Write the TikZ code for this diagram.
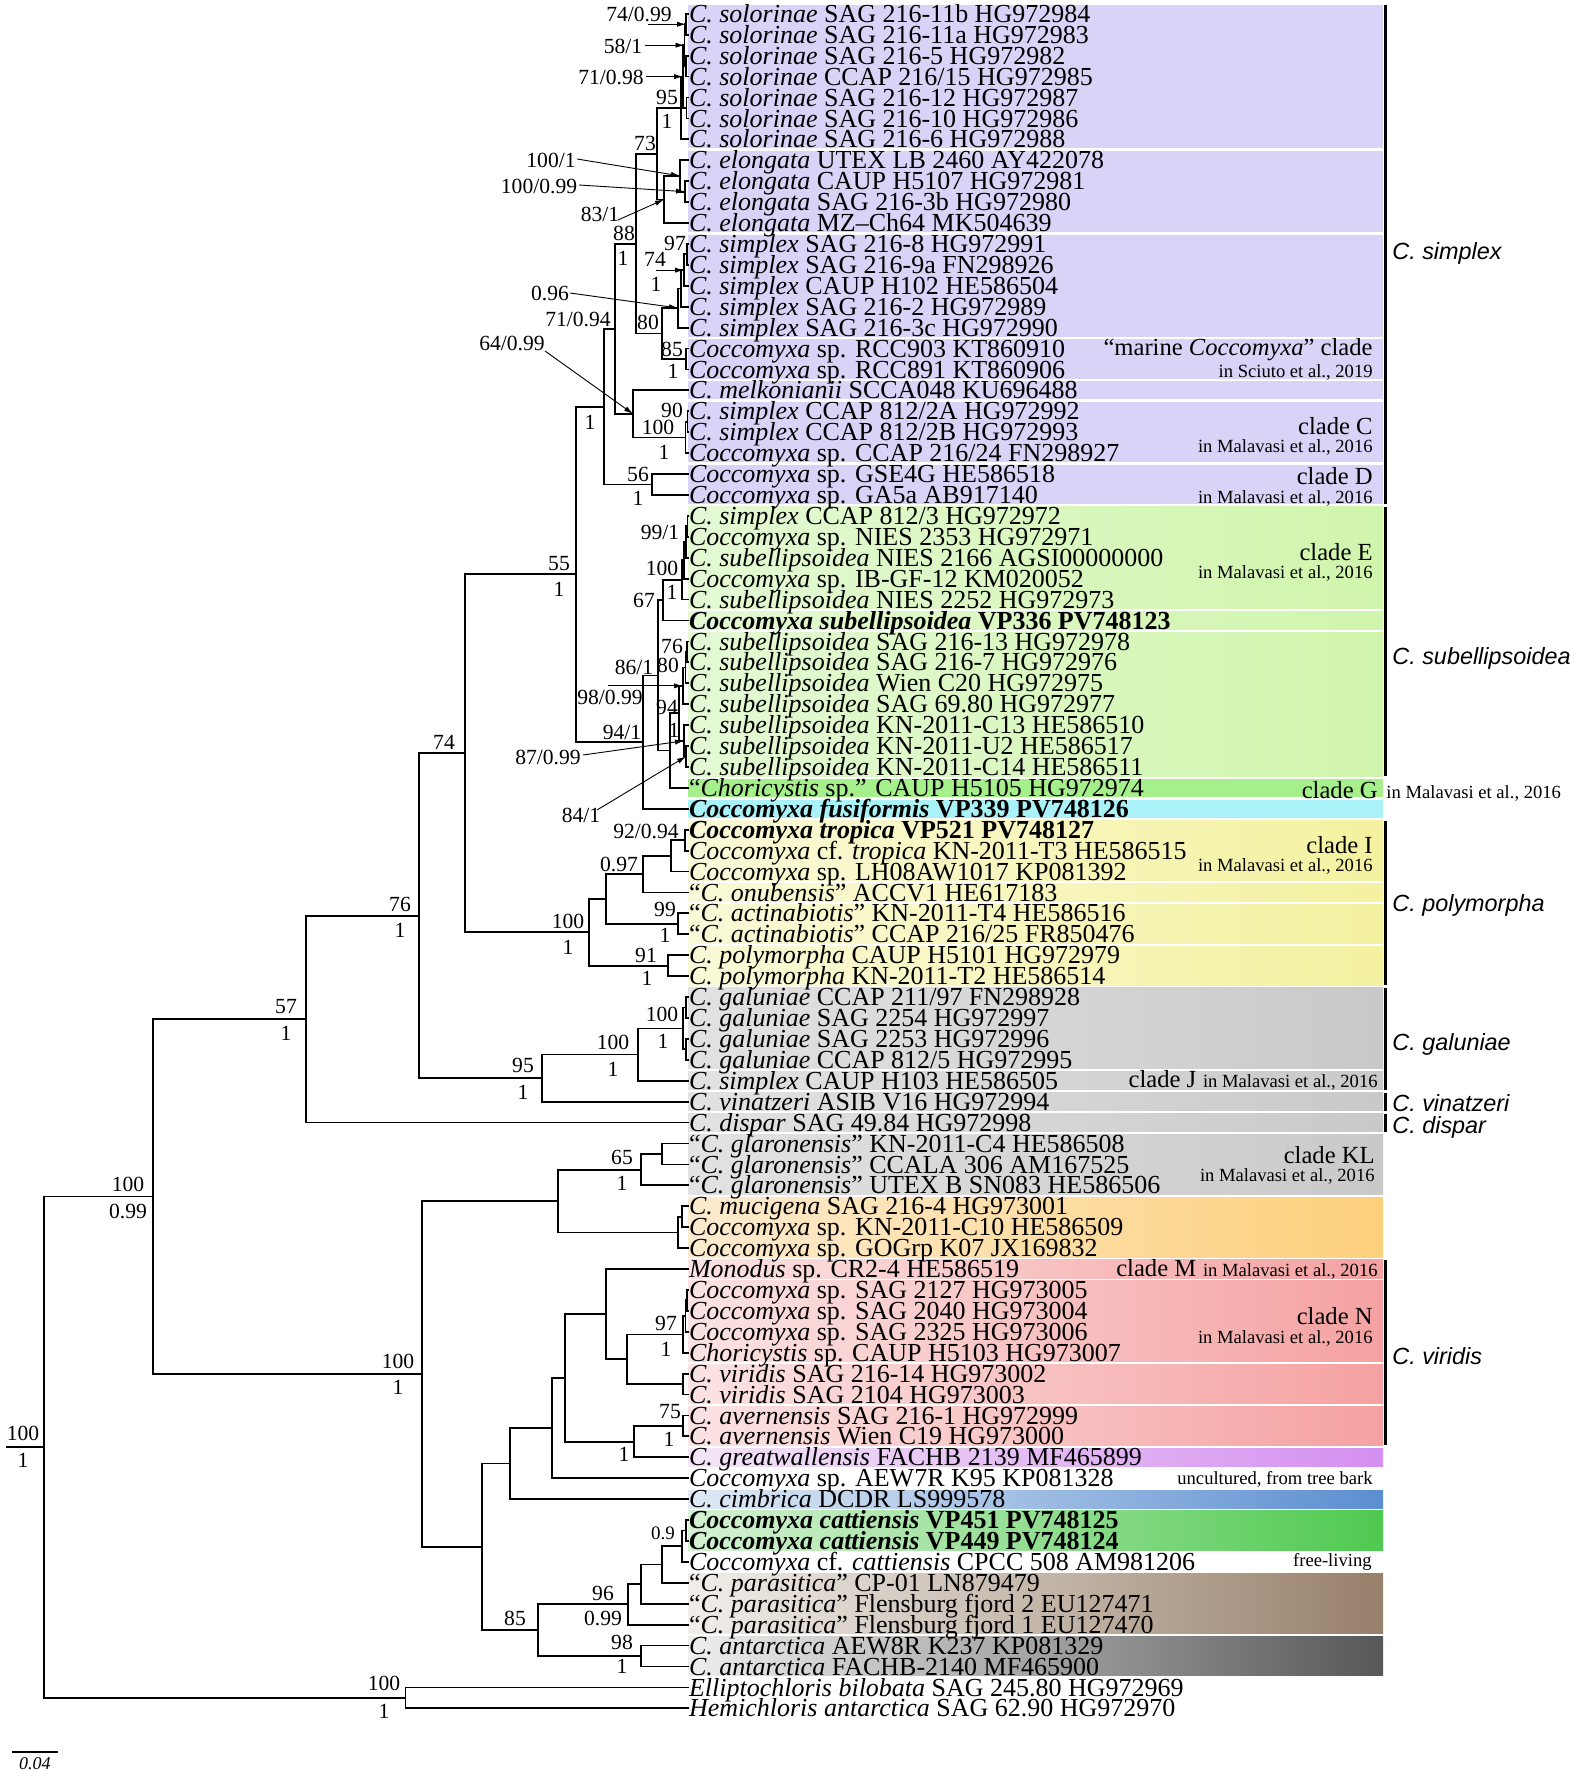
\documentclass[tikz,border=0pt]{standalone}
\usepackage{fontspec}
\setmainfont{Liberation Serif}
\newfontfamily\sidefont{Liberation Sans}
\usepackage{tikz}
\usetikzlibrary{arrows.meta, positioning, calc}

\definecolor{purp}{HTML}{D9D3F7}
\definecolor{subL}{HTML}{E4F9D4}
\definecolor{subR}{HTML}{D0F5AC}
\definecolor{gclade}{HTML}{A6F08C}
\definecolor{fusi}{HTML}{A9F2F7}
\definecolor{polL}{HTML}{FAF9D8}
\definecolor{polR}{HTML}{F4F2A0}
\definecolor{galL}{HTML}{E2E2E2}
\definecolor{galR}{HTML}{C9C9C9}
\definecolor{mucL}{HTML}{FDEBCF}
\definecolor{mucR}{HTML}{FDD07B}
\definecolor{virL}{HTML}{FBE3E3}
\definecolor{virR}{HTML}{F5A1A1}
\definecolor{grtL}{HTML}{F3E6F7}
\definecolor{grtR}{HTML}{D48FF0}
\definecolor{cimL}{HTML}{E0EAF6}
\definecolor{cimR}{HTML}{5B8ED0}
\definecolor{catL}{HTML}{D5F2D3}
\definecolor{catR}{HTML}{4FC94F}
\definecolor{parL}{HTML}{F1EEEA}
\definecolor{parR}{HTML}{97806A}
\definecolor{antL}{HTML}{EEEEEE}
\definecolor{antR}{HTML}{575757}

\tikzset{
  leaf/.style={anchor=west, inner sep=0pt, outer sep=0pt, text height=9.53pt, text depth=0.93pt, font=\fontsize{13}{14}\selectfont},
  under/.style={below=0pt of #1.south west, anchor=north west},
  br/.style={line width=0.9pt},
  sup/.style={inner sep=0pt, font=\fontsize{10.8}{12}\selectfont},
  ann/.style={line width=0.45pt, -{Latex[length=4.5pt,width=2.6pt]}},
  clade/.style={inner sep=0pt, font=\fontsize{12.3}{14}\selectfont},
  ref/.style={inner sep=0pt, font=\fontsize{9.3}{11}\selectfont},
  side/.style={anchor=west, inner sep=0pt, font=\sidefont\itshape\fontsize{11.7}{13}\selectfont},
  bar/.style={line width=1.5pt},
  subband/.style={left color=subL, right color=subR},
  polband/.style={left color=polL, right color=polR},
  galband/.style={left color=galL, right color=galR},
  mucband/.style={left color=mucL, right color=mucR},
  virband/.style={left color=virL, right color=virR},
  grtband/.style={left color=grtL, right color=grtR},
  cimband/.style={left color=cimL, right color=cimR},
  catband/.style={left color=catL, right color=catR},
  parband/.style={left color=parL, right color=parR},
  antband/.style={left color=antL, right color=antR},
}

% coloured row band from leaf #1 to leaf #2
\newcommand{\cband}[3]{\path[#3] (688,{13.8+(#1-1)*20.92-9.1}) rectangle (1383,{13.8+(#2-1)*20.92+9.1});}

\begin{document}
\begin{tikzpicture}[x=0.5pt, y=-0.5pt]
    \fill[white] (0,0) rectangle (1576,1772);%page background
    \useasboundingbox (0,0) rectangle (1576,1772);

    % bands behind the names
    \cband{1}{7}{fill=purp}\cband{8}{11}{fill=purp}\cband{12}{16}{fill=purp}\cband{17}{18}{fill=purp}%simplex rows
    \cband{19}{19}{fill=purp}\cband{20}{22}{fill=purp}\cband{23}{24}{fill=purp}%simplex rows
    \cband{25}{29}{subband}\cband{30}{30}{subband}\cband{31}{37}{subband}%subellipsoidea rows
    \cband{38}{38}{fill=gclade}\cband{39}{39}{fill=fusi}%clade G, fusiformis
    \cband{40}{42}{polband}\cband{43}{43}{polband}\cband{44}{45}{polband}\cband{46}{47}{polband}%polymorpha rows
    \cband{48}{51}{galband}\cband{52}{52}{galband}\cband{53}{53}{galband}\cband{54}{54}{galband}\cband{55}{57}{galband}%grey rows
    \cband{58}{60}{mucband}%mucigena rows
    \cband{61}{61}{virband}\cband{62}{65}{virband}\cband{66}{67}{virband}\cband{68}{69}{virband}%viridis rows
    \cband{70}{70}{grtband}\cband{72}{72}{cimband}\cband{73}{74}{catband}%single rows
    \cband{76}{78}{parband}\cband{79}{80}{antband}%parasitica, antarctica

    % clade bars
    \draw[bar] (1385.5,4.5) -- (1385.5,504);%simplex bar
    \draw[bar] (1385.5,507) -- (1385.5,776);%subellipsoidea bar
    \draw[bar] (1385.5,821) -- (1385.5,985);%polymorpha bar
    \draw[bar] (1385.5,988) -- (1385.5,1090);%galuniae bar
    \draw[bar] (1385.5,1093) -- (1385.5,1111);%vinatzeri bar
    \draw[bar] (1385.5,1114) -- (1385.5,1132);%dispar bar
    \draw[bar] (1385.5,1260) -- (1385.5,1445);%viridis bar

    % leaves
    \node[leaf] (l1) at (689,13.8) {\textit{C. solorinae} SAG 216-11b HG972984};%first leaf
    \node[leaf, under=l1] (l2) {\textit{C. solorinae} SAG 216-11a HG972983};
    \node[leaf, under=l2] (l3) {\textit{C. solorinae} SAG 216-5 HG972982};
    \node[leaf, under=l3] (l4) {\textit{C. solorinae} CCAP 216/15 HG972985};
    \node[leaf, under=l4] (l5) {\textit{C. solorinae} SAG 216-12 HG972987};
    \node[leaf, under=l5] (l6) {\textit{C. solorinae} SAG 216-10 HG972986};
    \node[leaf, under=l6] (l7) {\textit{C. solorinae} SAG 216-6 HG972988};
    \node[leaf, under=l7] (l8) {\textit{C. elongata} UTEX LB 2460 AY422078};
    \node[leaf, under=l8] (l9) {\textit{C. elongata} CAUP H5107 HG972981};
    \node[leaf, under=l9] (l10) {\textit{C. elongata} SAG 216-3b HG972980};
    \node[leaf, under=l10] (l11) {\textit{C. elongata} MZ–Ch64 MK504639};
    \node[leaf, under=l11] (l12) {\textit{C. simplex} SAG 216-8 HG972991};
    \node[leaf, under=l12] (l13) {\textit{C. simplex} SAG 216-9a FN298926};
    \node[leaf, under=l13] (l14) {\textit{C. simplex} CAUP H102 HE586504};
    \node[leaf, under=l14] (l15) {\textit{C. simplex} SAG 216-2 HG972989};
    \node[leaf, under=l15] (l16) {\textit{C. simplex} SAG 216-3c HG972990};
    \node[leaf, under=l16] (l17) {\textit{Coccomyxa} sp. RCC903 KT860910};
    \node[leaf, under=l17] (l18) {\textit{Coccomyxa} sp. RCC891 KT860906};
    \node[leaf, under=l18] (l19) {\textit{C. melkonianii} SCCA048 KU696488};
    \node[leaf, under=l19] (l20) {\textit{C. simplex} CCAP 812/2A HG972992};
    \node[leaf, under=l20] (l21) {\textit{C. simplex} CCAP 812/2B HG972993};
    \node[leaf, under=l21] (l22) {\textit{Coccomyxa} sp. CCAP 216/24 FN298927};
    \node[leaf, under=l22] (l23) {\textit{Coccomyxa} sp. GSE4G HE586518};
    \node[leaf, under=l23] (l24) {\textit{Coccomyxa} sp. GA5a AB917140};
    \node[leaf, under=l24] (l25) {\textit{C. simplex} CCAP 812/3 HG972972};
    \node[leaf, under=l25] (l26) {\textit{Coccomyxa} sp. NIES 2353 HG972971};
    \node[leaf, under=l26] (l27) {\textit{C. subellipsoidea} NIES 2166 AGSI00000000};
    \node[leaf, under=l27] (l28) {\textit{Coccomyxa} sp. IB-GF-12 KM020052};
    \node[leaf, under=l28] (l29) {\textit{C. subellipsoidea} NIES 2252 HG972973};
    \node[leaf, under=l29] (l30) {\textbf{\textit{Coccomyxa subellipsoidea} VP336 PV748123}};
    \node[leaf, under=l30] (l31) {\textit{C. subellipsoidea} SAG 216-13 HG972978};
    \node[leaf, under=l31] (l32) {\textit{C. subellipsoidea} SAG 216-7 HG972976};
    \node[leaf, under=l32] (l33) {\textit{C. subellipsoidea} Wien C20 HG972975};
    \node[leaf, under=l33] (l34) {\textit{C. subellipsoidea} SAG 69.80 HG972977};
    \node[leaf, under=l34] (l35) {\textit{C. subellipsoidea} KN-2011-C13 HE586510};
    \node[leaf, under=l35] (l36) {\textit{C. subellipsoidea} KN-2011-U2 HE586517};
    \node[leaf, under=l36] (l37) {\textit{C. subellipsoidea} KN-2011-C14 HE586511};
    \node[leaf, under=l37] (l38) {“\textit{Choricystis} sp.” CAUP H5105 HG972974};
    \node[leaf, under=l38] (l39) {\textbf{\textit{Coccomyxa fusiformis} VP339 PV748126}};
    \node[leaf, under=l39] (l40) {\textbf{\textit{Coccomyxa tropica} VP521 PV748127}};
    \node[leaf, under=l40] (l41) {\textit{Coccomyxa} cf. \textit{tropica} KN-2011-T3 HE586515};
    \node[leaf, under=l41] (l42) {\textit{Coccomyxa} sp. LH08AW1017 KP081392};
    \node[leaf, under=l42] (l43) {“\textit{C. onubensis}” ACCV1 HE617183};
    \node[leaf, under=l43] (l44) {“\textit{C. actinabiotis}” KN-2011-T4 HE586516};
    \node[leaf, under=l44] (l45) {“\textit{C. actinabiotis}” CCAP 216/25 FR850476};
    \node[leaf, under=l45] (l46) {\textit{C. polymorpha} CAUP H5101 HG972979};
    \node[leaf, under=l46] (l47) {\textit{C. polymorpha} KN-2011-T2 HE586514};
    \node[leaf, under=l47] (l48) {\textit{C. galuniae} CCAP 211/97 FN298928};
    \node[leaf, under=l48] (l49) {\textit{C. galuniae} SAG 2254 HG972997};
    \node[leaf, under=l49] (l50) {\textit{C. galuniae} SAG 2253 HG972996};
    \node[leaf, under=l50] (l51) {\textit{C. galuniae} CCAP 812/5 HG972995};
    \node[leaf, under=l51] (l52) {\textit{C. simplex} CAUP H103 HE586505};
    \node[leaf, under=l52] (l53) {\textit{C. vinatzeri} ASIB V16 HG972994};
    \node[leaf, under=l53] (l54) {\textit{C. dispar} SAG 49.84 HG972998};
    \node[leaf, under=l54] (l55) {“\textit{C. glaronensis}” KN-2011-C4 HE586508};
    \node[leaf, under=l55] (l56) {“\textit{C. glaronensis}” CCALA 306 AM167525};
    \node[leaf, under=l56] (l57) {“\textit{C. glaronensis}” UTEX B SN083 HE586506};
    \node[leaf, under=l57] (l58) {\textit{C. mucigena} SAG 216-4 HG973001};
    \node[leaf, under=l58] (l59) {\textit{Coccomyxa} sp. KN-2011-C10 HE586509};
    \node[leaf, under=l59] (l60) {\textit{Coccomyxa} sp. GOGrp K07 JX169832};
    \node[leaf, under=l60] (l61) {\textit{Monodus} sp. CR2-4 HE586519};
    \node[leaf, under=l61] (l62) {\textit{Coccomyxa} sp. SAG 2127 HG973005};
    \node[leaf, under=l62] (l63) {\textit{Coccomyxa} sp. SAG 2040 HG973004};
    \node[leaf, under=l63] (l64) {\textit{Coccomyxa} sp. SAG 2325 HG973006};
    \node[leaf, under=l64] (l65) {\textit{Choricystis} sp. CAUP H5103 HG973007};
    \node[leaf, under=l65] (l66) {\textit{C. viridis} SAG 216-14 HG973002};
    \node[leaf, under=l66] (l67) {\textit{C. viridis} SAG 2104 HG973003};
    \node[leaf, under=l67] (l68) {\textit{C. avernensis} SAG 216-1 HG972999};
    \node[leaf, under=l68] (l69) {\textit{C. avernensis} Wien C19 HG973000};
    \node[leaf, under=l69] (l70) {\textit{C. greatwallensis} FACHB 2139 MF465899};
    \node[leaf, under=l70] (l71) {\textit{Coccomyxa} sp. AEW7R K95 KP081328};
    \node[leaf, under=l71] (l72) {\textit{C. cimbrica} DCDR LS999578};
    \node[leaf, under=l72] (l73) {\textbf{\textit{Coccomyxa cattiensis} VP451 PV748125}};
    \node[leaf, under=l73] (l74) {\textbf{\textit{Coccomyxa cattiensis} VP449 PV748124}};
    \node[leaf, under=l74] (l75) {\textit{Coccomyxa} cf. \textit{cattiensis} CPCC 508 AM981206};
    \node[leaf, under=l75] (l76) {“\textit{C. parasitica}” CP-01 LN879479};
    \node[leaf, under=l76] (l77) {“\textit{C. parasitica}” Flensburg fjord 2 EU127471};
    \node[leaf, under=l77] (l78) {“\textit{C. parasitica}” Flensburg fjord 1 EU127470};
    \node[leaf, under=l78] (l79) {\textit{C. antarctica} AEW8R K237 KP081329};
    \node[leaf, under=l79] (l80) {\textit{C. antarctica} FACHB-2140 MF465900};
    \node[leaf, under=l80] (l81) {\textit{Elliptochloris bilobata} SAG 245.80 HG972969};
    \node[leaf, under=l81] (l82) {\textit{Hemichloris antarctica} SAG 62.90 HG972970};%last leaf

    % internal nodes
    \coordinate (sA) at (686,24.25);\coordinate (sB34) at (686,66.1);\coordinate (sB) at (684.5,45.2);
    \coordinate (s56) at (686.5,108);\coordinate (sC) at (683,76.6);\coordinate (n95) at (681,108);
    \coordinate (e910) at (685,191.65);\coordinate (e8) at (680,175.9);\coordinate (n83) at (664,199.5);
    \coordinate (n73) at (657,153.75);\coordinate (n97) at (687,254.35);\coordinate (n74s) at (684,270.1);
    \coordinate (sY) at (681,288.4);\coordinate (n096) at (678,308);\coordinate (n85) at (686,358.95);
    \coordinate (n80) at (662,333.5);\coordinate (n88) at (636,243.6);\coordinate (n90) at (687.5,421.75);
    \coordinate (nCC) at (685.5,437.4);\coordinate (n64) at (633,413.9);\coordinate (n71) at (615,328.75);
    \coordinate (n56) at (652,484.5);\coordinate (n604) at (604,406.6);
    \coordinate (e2526) at (687.5,526.35);\coordinate (n99) at (686,542);\coordinate (eQ) at (684,560.3);
    \coordinate (n100e) at (682,579.95);\coordinate (n67) at (663,600.2);\coordinate (n76s) at (687,651.85);
    \coordinate (n80s) at (685.5,667.5);\coordinate (n98) at (683,685.85);\coordinate (n84) at (686,756.45);
    \coordinate (n87) at (684,740.8);\coordinate (nX) at (679,713.3);\coordinate (nV) at (670,750.55);
    \coordinate (nW) at (658,675.4);\coordinate (n94) at (643,742.1);\coordinate (n55) at (576,574.35);
    \coordinate (n92) at (685,840.15);\coordinate (nT) at (671,855.8);\coordinate (n097) at (643,874.1);
    \coordinate (n99p) at (678,923.85);\coordinate (nM) at (606,899);\coordinate (n91) at (668,965.65);
    \coordinate (n100p) at (589,932.3);\coordinate (n74) at (465,753.3);
    \coordinate (g4849) at (686,1007.5);\coordinate (g5051) at (686,1049.35);\coordinate (n100g) at (683,1028.4);
    \coordinate (n100h) at (638,1054.55);\coordinate (n95g) at (542,1078.1);\coordinate (n76) at (419,915.7);
    \coordinate (n57) at (306,1019.15);
    \coordinate (g5556) at (662,1153.95);\coordinate (n65) at (641,1169.6);\coordinate (m5859) at (682,1216.7);
    \coordinate (m60) at (678,1232.4);\coordinate (nK) at (558,1201);
    \coordinate (v6263) at (687,1300.35);\coordinate (v64) at (685.5,1316.1);\coordinate (n97v) at (683,1334.4);
    \coordinate (v6667) at (683,1384.05);\coordinate (vN) at (627,1359.2);\coordinate (vMn) at (606,1314.1);
    \coordinate (n75) at (683,1425.9);\coordinate (nAv) at (634,1441.6);\coordinate (vI) at (565,1377.85);
    \coordinate (vA) at (552,1428);\coordinate (vB) at (510,1463.55);
    \coordinate (c09) at (686,1530.5);\coordinate (c75) at (682,1546.2);\coordinate (c76) at (662,1564.5);
    \coordinate (c77) at (641,1584.1);\coordinate (n96) at (628,1604.35);\coordinate (n98a) at (641,1656.05);
    \coordinate (n85c) at (538,1630.2);\coordinate (vC) at (482,1546.9);\coordinate (n100v) at (422,1373.95);
    \coordinate (n100r) at (153,1196.55);\coordinate (nOut) at (405.5,1697.85);\coordinate (nRoot) at (44,1447.2);
    \coordinate (stub) at (6,1447.2);%root stub end

    % branches
    \draw[br] (l1.west) -| (sA) |- (l2.west);%solorinae
    \draw[br] (l3.west) -| (sB34) |- (l4.west);
    \draw[br] (sA) -| (sB) |- (sB34);
    \draw[br] (l5.west) -| (s56) |- (l6.west);
    \draw[br] (sB) -| (sC) |- (s56);
    \draw[br] (sC) -| (n95) |- (l7.west);
    \draw[br] (l9.west) -| (e910) |- (l10.west);%elongata
    \draw[br] (l8.west) -| (e8) |- (e910);
    \draw[br] (e8) -| (n83) |- (l11.west);
    \draw[br] (n95) -| (n73) |- (n83);
    \draw[br] (l12.west) -| (n97) |- (l13.west);%simplex
    \draw[br] (n97) -| (n74s) |- (l14.west);
    \draw[br] (n74s) -| (sY) |- (l15.west);
    \draw[br] (sY) -| (n096) |- (l16.west);
    \draw[br] (l17.west) -| (n85) |- (l18.west);
    \draw[br] (n096) -| (n80) |- (n85);
    \draw[br] (n73) -| (n88) |- (n80);
    \draw[br] (l20.west) -| (n90) |- (l21.west);
    \draw[br] (n90) -| (nCC) |- (l22.west);
    \draw[br] (l19.west) -| (n64) |- (nCC);
    \draw[br] (n88) -| (n71) |- (n64);
    \draw[br] (l23.west) -| (n56) |- (l24.west);
    \draw[br] (n71) -| (n604) |- (n56);
    \draw[br] (l25.west) -| (e2526) |- (l26.west);%subellipsoidea
    \draw[br] (e2526) -| (n99) |- (l27.west);
    \draw[br] (n99) -| (eQ) |- (l28.west);
    \draw[br] (eQ) -| (n100e) |- (l29.west);
    \draw[br] (n100e) -| (n67) |- (l30.west);
    \draw[br] (l31.west) -| (n76s) |- (l32.west);
    \draw[br] (n76s) -| (n80s) |- (l33.west);
    \draw[br] (n80s) -| (n98) |- (l34.west);
    \draw[br] (l36.west) -| (n84) |- (l37.west);
    \draw[br] (l35.west) -| (n87) |- (n84);
    \draw[br] (n98) -| (nX) |- (n87);
    \draw[br] (nX) -| (nV) |- (l38.west);
    \draw[br] (n67) -| (nW) |- (nV);
    \draw[br] (nW) -| (n94) |- (l39.west);
    \draw[br] (n604) -| (n55) |- (n94);
    \draw[br] (l40.west) -| (n92) |- (l41.west);%polymorpha
    \draw[br] (n92) -| (nT) |- (l42.west);
    \draw[br] (nT) -| (n097) |- (l43.west);
    \draw[br] (l44.west) -| (n99p) |- (l45.west);
    \draw[br] (n097) -| (nM) |- (n99p);
    \draw[br] (l46.west) -| (n91) |- (l47.west);
    \draw[br] (nM) -| (n100p) |- (n91);
    \draw[br] (n55) -| (n74) |- (n100p);
    \draw[br] (l48.west) -| (g4849) |- (l49.west);%galuniae
    \draw[br] (l50.west) -| (g5051) |- (l51.west);
    \draw[br] (g4849) -| (n100g) |- (g5051);
    \draw[br] (n100g) -| (n100h) |- (l52.west);
    \draw[br] (n100h) -| (n95g) |- (l53.west);
    \draw[br] (n74) -| (n76) |- (n95g);
    \draw[br] (n76) -| (n57) |- (l54.west);
    \draw[br] (l55.west) -| (g5556) |- (l56.west);%viridis side
    \draw[br] (g5556) -| (n65) |- (l57.west);
    \draw[br] (l58.west) -| (m5859) |- (l59.west);
    \draw[br] (m5859) -| (m60) |- (l60.west);
    \draw[br] (n65) -| (nK) |- (m60);
    \draw[br] (l62.west) -| (v6263) |- (l63.west);
    \draw[br] (v6263) -| (v64) |- (l64.west);
    \draw[br] (v64) -| (n97v) |- (l65.west);
    \draw[br] (l66.west) -| (v6667) |- (l67.west);
    \draw[br] (n97v) -| (vN) |- (v6667);
    \draw[br] (l61.west) -| (vMn) |- (vN);
    \draw[br] (l68.west) -| (n75) |- (l69.west);
    \draw[br] (n75) -| (nAv) |- (l70.west);
    \draw[br] (vMn) -| (vI) |- (nAv);
    \draw[br] (vI) -| (vA) |- (l71.west);
    \draw[br] (vA) -| (vB) |- (l72.west);
    \draw[br] (l73.west) -| (c09) |- (l74.west);%cattiensis
    \draw[br] (c09) -| (c75) |- (l75.west);
    \draw[br] (c75) -| (c76) |- (l76.west);
    \draw[br] (c76) -| (c77) |- (l77.west);
    \draw[br] (c77) -| (n96) |- (l78.west);
    \draw[br] (l79.west) -| (n98a) |- (l80.west);
    \draw[br] (n96) -| (n85c) |- (n98a);
    \draw[br] (vB) -| (vC) |- (n85c);
    \draw[br] (nK) -| (n100v) |- (vC);
    \draw[br] (n57) -| (n100r) |- (n100v);
    \draw[br] (l81.west) -| (nOut) |- (l82.west);%outgroup
    \draw[br] (n100r) -| (nRoot) |- (nOut);
    \draw[br] (stub) -- (nRoot);%root stub

    % support values
    \node[sup] (b95a) at (667,97) {95};\node[sup] (b95b) at (667,121) {1};
    \node[sup] (b73) at (645,143) {73};
    \node[sup] (b88a) at (624,233) {88};\node[sup] (b88b) at (623,258) {1};
    \node[sup] (b97) at (675,243) {97};
    \node[sup] (b74s) at (655,259) {74};\node[sup] (b74sb) at (656,284) {1};
    \node[sup] (b80) at (648,322) {80};
    \node[sup] (b85a) at (672,349) {85};\node[sup] (b85b) at (673,371) {1};
    \node[sup] (b71) at (578,319) {71/0.94};
    \node[sup] (b604) at (590,422) {1};
    \node[sup] (b90) at (672,410) {90};
    \node[sup] (bCCa) at (658,427) {100};\node[sup] (bCCb) at (664,452) {1};
    \node[sup] (b56a) at (638,474) {56};\node[sup] (b56b) at (638,498) {1};
    \node[sup] (b55a) at (559,564) {55};\node[sup] (b55b) at (559,589) {1};
    \node[sup] (b99) at (660,532) {99/1};
    \node[sup] (b100ea) at (662,568) {100};\node[sup] (b100eb) at (672,592) {1};
    \node[sup] (b67) at (644,600) {67};
    \node[sup] (b76s) at (672,646) {76};
    \node[sup] (b80s) at (668,665) {80};
    \node[sup] (b86) at (634,667) {86/1};
    \node[sup] (bXa) at (667,707) {94};\node[sup] (bXb) at (674,730) {1};
    \node[sup] (b94) at (622,732) {94/1};
    \node[sup] (b74) at (444,742) {74};
    \node[sup] (b92) at (646,831) {92/0.94};
    \node[sup] (b097) at (619,864) {0.97};
    \node[sup] (b99pa) at (665,909) {99};\node[sup] (b99pb) at (665,935) {1};
    \node[sup] (b100pa) at (568,921) {100};\node[sup] (b100pb) at (568,947) {1};
    \node[sup] (b91a) at (646,955) {91};\node[sup] (b91b) at (647,978) {1};
    \node[sup] (b76a) at (400,904) {76};\node[sup] (b76b) at (400,930) {1};
    \node[sup] (b100ga) at (662,1014) {100};\node[sup] (b100gb) at (663,1041) {1};
    \node[sup] (b100ha) at (613,1042) {100};\node[sup] (b100hb) at (613,1069) {1};
    \node[sup] (b95ga) at (523,1065) {95};\node[sup] (b95gb) at (523,1092) {1};
    \node[sup] (b57a) at (286,1007) {57};\node[sup] (b57b) at (286,1033) {1};
    \node[sup] (b100ra) at (128,1184) {100};\node[sup] (b100rb) at (128,1211) {0.99};
    \node[sup] (b65a) at (622,1157) {65};\node[sup] (b65b) at (622,1183) {1};
    \node[sup] (b100va) at (398,1361) {100};\node[sup] (b100vb) at (398,1387) {1};
    \node[sup] (b97va) at (666,1323) {97};\node[sup] (b97vb) at (666,1349) {1};
    \node[sup] (b75a) at (670,1412) {75};\node[sup] (b75b) at (669,1439) {1};
    \node[sup] (bAv) at (624,1454) {1};
    \node[sup, font=\fontsize{9.5}{11}\selectfont] (b09) at (663,1533) {0.9};
    \node[sup] (b96a) at (603,1593) {96};\node[sup] (b96b) at (603,1618) {0.99};
    \node[sup] (b85c) at (515,1618) {85};
    \node[sup] (b98aa) at (622,1642) {98};\node[sup] (b98ab) at (622,1666) {1};
    \node[sup] (bOa) at (384,1683) {100};\node[sup] (bOb) at (384,1711) {1};
    \node[sup] (bRa) at (23,1433) {100};\node[sup] (bRb) at (23,1460) {1};

    % support values with pointers
    \node[sup] (p7499) at (639,14) {74/0.99};\coordinate (q7499) at (648,24.25);
    \draw[ann] (q7499) -- (sA);
    \node[sup] (p581) at (623,46) {58/1};\coordinate (q581) at (645,45.2);
    \draw[ann] (q581) -- (sB);
    \node[sup] (p7198) at (611,77) {71/0.98};\coordinate (q7198) at (646,76.6);
    \draw[ann] (q7198) -- (sC);
    \node[sup] (p1001) at (551,160) {100/1};\coordinate (q1001) at (577,159);
    \draw[ann] (q1001) -- (e8);
    \node[sup] (p10099) at (539,186) {100/0.99};\coordinate (q10099) at (579,185);
    \draw[ann] (q10099) -- (e910);
    \node[sup] (p831) at (600,214) {83/1};\coordinate (q831) at (618,220);
    \draw[ann] (q831) -- (n83);
    \draw[ann] ([xshift=-4.5pt]n74s) ++(-19,0) coordinate (q74s) -- (n74s);
    \node[sup] (p096) at (550,293) {0.96};\coordinate (q096) at (570,293);
    \draw[ann] (q096) -- (n096);
    \node[sup] (p6499) at (512,343) {64/0.99};\coordinate (q6499) at (545,351);
    \draw[ann] (q6499) -- (n64);
    \node[sup] (p9899) at (610,697) {98/0.99};\coordinate (q9899) at (608,685.85);
    \draw[ann] (q9899) -- (n98);
    \node[sup] (p8799) at (548,757) {87/0.99};\coordinate (q8799) at (583,755);
    \draw[ann] (q8799) -- (n87);
    \node[sup] (p841) at (581,815) {84/1};\coordinate (q841) at (597,810);
    \draw[ann] (q841) -- (n84);

    % clade notes in the bands
    \node[clade, anchor=east] (tmar) at (1373,350) {“marine \textit{Coccomyxa}” clade};
    \node[ref, anchor=east] (tmarr) at (1373,372) {in Sciuto et al., 2019};
    \node[clade, anchor=east] (tC) at (1373,426) {clade C};
    \node[ref, anchor=east] (tCr) at (1373,447) {in Malavasi et al., 2016};
    \node[clade, anchor=east] (tD) at (1373,476) {clade D};
    \node[ref, anchor=east] (tDr) at (1373,498) {in Malavasi et al., 2016};
    \node[clade, anchor=east] (tE) at (1373,552) {clade E};
    \node[ref, anchor=east] (tEr) at (1373,573) {in Malavasi et al., 2016};
    \node[clade, anchor=east] (tG) at (1378,790) {clade G};
    \node[ref, base right=4pt of tG] (tGr) {in Malavasi et al., 2016};
    \node[clade, anchor=east] (tI) at (1373,845) {clade I};
    \node[ref, anchor=east] (tIr) at (1373,866) {in Malavasi et al., 2016};
    \node[ref, anchor=east] (tJr) at (1378,1082) {in Malavasi et al., 2016};
    \node[clade, base left=3pt of tJr] (tJ) {clade J};
    \node[clade, anchor=east] (tKL) at (1375,1155) {clade KL};
    \node[ref, anchor=east] (tKLr) at (1375,1176) {in Malavasi et al., 2016};
    \node[ref, anchor=east] (tMr) at (1378,1271) {in Malavasi et al., 2016};
    \node[clade, base left=3pt of tMr] (tM) {clade M};
    \node[clade, anchor=east] (tN) at (1373,1316) {clade N};
    \node[ref, anchor=east] (tNr) at (1373,1338) {in Malavasi et al., 2016};
    \node[ref, anchor=east] (tunc) at (1373,1479) {uncultured, from tree bark};
    \node[ref, anchor=east] (tfree) at (1372,1562) {free-living};

    % species on the right
    \node[side] (rsim) at (1392,253) {C. simplex};
    \node[side] (rsub) at (1392,658) {C. subellipsoidea};
    \node[side] (rpol) at (1392,905) {C. polymorpha};
    \node[side] (rgal) at (1392,1044) {C. galuniae};
    \node[side] (rvin) at (1392,1103) {C. vinatzeri};
    \node[side] (rdis) at (1392,1127) {C. dispar};
    \node[side] (rvir) at (1392,1356) {C. viridis};

    % scale bar
    \coordinate (sc1) at (12,1752);\coordinate (sc2) at (58,1752);
    \draw[line width=0.7pt] (sc1) -- (sc2);%0.04 bar
    \node[sup, font=\fontsize{9}{10}\selectfont, below=2.5pt of $(sc1)!0.5!(sc2)$] (scl) {\textit{0.04}};
\end{tikzpicture}
\end{document}
